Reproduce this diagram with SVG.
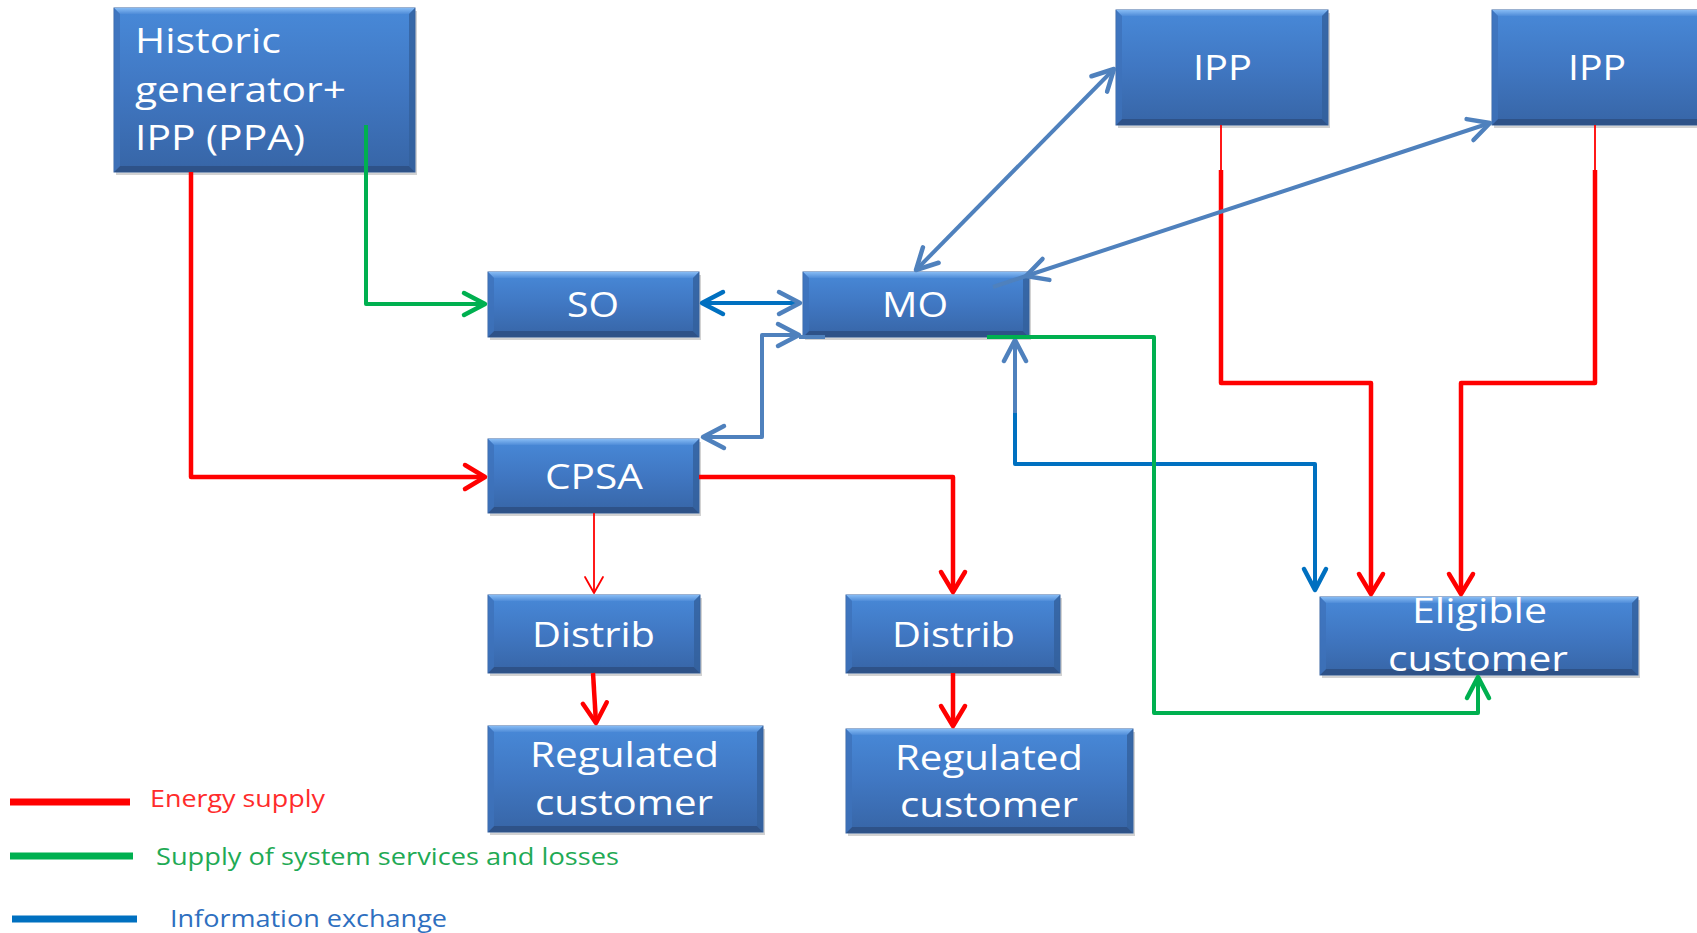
<svg xmlns="http://www.w3.org/2000/svg" width="1697" height="933" viewBox="0 0 1697 933">
<style>
.box{fill:url(#gBox);stroke:#3864a2;stroke-width:1}
.bt{fill:url(#gTop)}
.bb{fill:#2d4f83;opacity:.85}
.bl{fill:#3d72ba;opacity:.8}
.br{fill:#33609c;opacity:.8}
.sh{fill:#7f7f7f;opacity:.35}
.lbl{font-family:"Open Sans","Liberation Sans",sans-serif;font-size:35px;fill:#ffffff}
.leg{font-family:"Open Sans","Liberation Sans",sans-serif;font-size:23px}
.cn{fill:none;stroke-linejoin:round}
.red{stroke:#ff0000;stroke-width:4.5}
.redt{stroke:#ff0000;stroke-width:1.8}
.grn{stroke:#00b050;stroke-width:4}
.stl{stroke:#4f81bd;stroke-width:4}
.dkb{stroke:#0070c0;stroke-width:4}
marker{overflow:visible}
</style>
<defs>
<linearGradient id="gBox" x1="0" y1="0" x2="0" y2="1">
<stop offset="0" stop-color="#4889d8"/>
<stop offset="0.5" stop-color="#4077c2"/>
<stop offset="1" stop-color="#3765a6"/>
</linearGradient>
<linearGradient id="gTop" x1="0" y1="0" x2="0" y2="1">
<stop offset="0" stop-color="#86bbf4"/>
<stop offset="1" stop-color="#4f8cd8"/>
</linearGradient>
<marker id="aR" viewBox="-24 -14 28 28" refX="0" refY="0" markerWidth="28" markerHeight="28" orient="auto-start-reverse" markerUnits="userSpaceOnUse"><path d="M-20,-12 L0,0 L-20,12" fill="none" stroke="#ff0000" stroke-width="4.5" stroke-linecap="round" stroke-linejoin="round"/></marker>
<marker id="aRt" viewBox="-18 -10 20 20" refX="0" refY="0" markerWidth="20" markerHeight="20" orient="auto-start-reverse" markerUnits="userSpaceOnUse"><path d="M-16,-9 L0,0 L-16,9" fill="none" stroke="#ff0000" stroke-width="1.8" stroke-linecap="round" stroke-linejoin="round"/></marker>
<marker id="aG" viewBox="-24 -14 28 28" refX="0" refY="0" markerWidth="28" markerHeight="28" orient="auto-start-reverse" markerUnits="userSpaceOnUse"><path d="M-21,-11 L0,0 L-21,11" fill="none" stroke="#00b050" stroke-width="4.5" stroke-linecap="round" stroke-linejoin="round"/></marker>
<marker id="aS" viewBox="-24 -14 28 28" refX="0" refY="0" markerWidth="28" markerHeight="28" orient="auto-start-reverse" markerUnits="userSpaceOnUse"><path d="M-21,-11 L0,0 L-21,11" fill="none" stroke="#4f81bd" stroke-width="4.5" stroke-linecap="round" stroke-linejoin="round"/></marker>
<marker id="aD" viewBox="-24 -14 28 28" refX="0" refY="0" markerWidth="28" markerHeight="28" orient="auto-start-reverse" markerUnits="userSpaceOnUse"><path d="M-21,-11 L0,0 L-21,11" fill="none" stroke="#0070c0" stroke-width="4.5" stroke-linecap="round" stroke-linejoin="round"/></marker>
</defs>
<rect x="0" y="0" width="1697" height="933" fill="#ffffff"/>

<g id="hist">
<rect class="sh" x="116" y="11" width="301" height="164"/>
<rect class="box" x="114" y="8" width="301" height="164"/>
<polygon class="bt" points="114,8 415,8 409,14 120,14"/>
<polygon class="bb" points="114,172 415,172 409,166 120,166"/>
<polygon class="bl" points="114,8 120,14 120,166 114,172"/>
<polygon class="br" points="415,8 409,14 409,166 415,172"/>
<text class="lbl" x="135" y="53" textLength="146" lengthAdjust="spacingAndGlyphs">Historic</text>
<text class="lbl" x="135" y="102" textLength="211" lengthAdjust="spacingAndGlyphs">generator+</text>
<text class="lbl" x="135" y="150" textLength="170" lengthAdjust="spacingAndGlyphs">IPP (PPA)</text>
</g>

<g id="ipp1">
<rect class="sh" x="1118" y="13" width="212" height="115"/>
<rect class="box" x="1116" y="10" width="212" height="115"/>
<polygon class="bt" points="1116,10 1328,10 1322,16 1122,16"/>
<polygon class="bb" points="1116,125 1328,125 1322,119 1122,119"/>
<polygon class="bl" points="1116,10 1122,16 1122,119 1116,125"/>
<polygon class="br" points="1328,10 1322,16 1322,119 1328,125"/>
<text class="lbl" x="1193" y="80" textLength="59" lengthAdjust="spacingAndGlyphs">IPP</text>
</g>

<g id="ipp2">
<rect class="sh" x="1494" y="13" width="212" height="115"/>
<rect class="box" x="1492" y="10" width="212" height="115"/>
<polygon class="bt" points="1492,10 1704,10 1698,16 1498,16"/>
<polygon class="bb" points="1492,125 1704,125 1698,119 1498,119"/>
<polygon class="bl" points="1492,10 1498,16 1498,119 1492,125"/>
<text class="lbl" x="1568" y="80" textLength="58" lengthAdjust="spacingAndGlyphs">IPP</text>
</g>

<g id="so">
<rect class="sh" x="490" y="275" width="211" height="65"/>
<rect class="box" x="488" y="272" width="211" height="65"/>
<polygon class="bt" points="488,272 699,272 693,278 494,278"/>
<polygon class="bb" points="488,337 699,337 693,331 494,331"/>
<polygon class="bl" points="488,272 494,278 494,331 488,337"/>
<polygon class="br" points="699,272 693,278 693,331 699,337"/>
<text class="lbl" x="567" y="317" textLength="52" lengthAdjust="spacingAndGlyphs">SO</text>
</g>

<g id="mo">
<rect class="sh" x="805" y="275" width="226" height="65"/>
<rect class="box" x="803" y="272" width="226" height="65"/>
<polygon class="bt" points="803,272 1029,272 1023,278 809,278"/>
<polygon class="bb" points="803,337 1029,337 1023,331 809,331"/>
<polygon class="bl" points="803,272 809,278 809,331 803,337"/>
<polygon class="br" points="1029,272 1023,278 1023,331 1029,337"/>
<text class="lbl" x="882" y="317" textLength="66" lengthAdjust="spacingAndGlyphs">MO</text>
</g>

<g id="cpsa">
<rect class="sh" x="490" y="442" width="211" height="74"/>
<rect class="box" x="488" y="439" width="211" height="74"/>
<polygon class="bt" points="488,439 699,439 693,445 494,445"/>
<polygon class="bb" points="488,513 699,513 693,507 494,507"/>
<polygon class="bl" points="488,439 494,445 494,507 488,513"/>
<polygon class="br" points="699,439 693,445 693,507 699,513"/>
<text class="lbl" x="545" y="489" textLength="98" lengthAdjust="spacingAndGlyphs">CPSA</text>
</g>

<g id="distrib1">
<rect class="sh" x="490" y="598" width="212" height="78"/>
<rect class="box" x="488" y="595" width="212" height="78"/>
<polygon class="bt" points="488,595 700,595 694,601 494,601"/>
<polygon class="bb" points="488,673 700,673 694,667 494,667"/>
<polygon class="bl" points="488,595 494,601 494,667 488,673"/>
<polygon class="br" points="700,595 694,601 694,667 700,673"/>
<text class="lbl" x="532" y="647" textLength="123" lengthAdjust="spacingAndGlyphs">Distrib</text>
</g>

<g id="distrib2">
<rect class="sh" x="848" y="598" width="214" height="78"/>
<rect class="box" x="846" y="595" width="214" height="78"/>
<polygon class="bt" points="846,595 1060,595 1054,601 852,601"/>
<polygon class="bb" points="846,673 1060,673 1054,667 852,667"/>
<polygon class="bl" points="846,595 852,601 852,667 846,673"/>
<polygon class="br" points="1060,595 1054,601 1054,667 1060,673"/>
<text class="lbl" x="892" y="647" textLength="123" lengthAdjust="spacingAndGlyphs">Distrib</text>
</g>

<g id="reg1">
<rect class="sh" x="490" y="729" width="275" height="106"/>
<rect class="box" x="488" y="726" width="275" height="106"/>
<polygon class="bt" points="488,726 763,726 757,732 494,732"/>
<polygon class="bb" points="488,832 763,832 757,826 494,826"/>
<polygon class="bl" points="488,726 494,732 494,826 488,832"/>
<polygon class="br" points="763,726 757,732 757,826 763,832"/>
<text class="lbl" x="530" y="767" textLength="189" lengthAdjust="spacingAndGlyphs">Regulated</text>
<text class="lbl" x="535" y="815" textLength="178" lengthAdjust="spacingAndGlyphs">customer</text>
</g>

<g id="reg2">
<rect class="sh" x="848" y="732" width="287" height="104"/>
<rect class="box" x="846" y="729" width="287" height="104"/>
<polygon class="bt" points="846,729 1133,729 1127,735 852,735"/>
<polygon class="bb" points="846,833 1133,833 1127,827 852,827"/>
<polygon class="bl" points="846,729 852,735 852,827 846,833"/>
<polygon class="br" points="1133,729 1127,735 1127,827 1133,833"/>
<text class="lbl" x="895" y="770" textLength="188" lengthAdjust="spacingAndGlyphs">Regulated</text>
<text class="lbl" x="900" y="817" textLength="178" lengthAdjust="spacingAndGlyphs">customer</text>
</g>

<g id="eligible">
<rect class="sh" x="1322" y="600" width="318" height="78"/>
<rect class="box" x="1320" y="597" width="318" height="78"/>
<polygon class="bt" points="1320,597 1638,597 1632,603 1326,603"/>
<polygon class="bb" points="1320,675 1638,675 1632,669 1326,669"/>
<polygon class="bl" points="1320,597 1326,603 1326,669 1320,675"/>
<polygon class="br" points="1638,597 1632,603 1632,669 1638,675"/>
<text class="lbl" x="1412" y="623" textLength="135" lengthAdjust="spacingAndGlyphs">Eligible</text>
<text class="lbl" x="1388" y="671" textLength="180" lengthAdjust="spacingAndGlyphs">customer</text>
</g>

<g id="connectors">
<path class="cn red" d="M191,172 V477 H485" marker-end="url(#aR)"/>
<path class="cn redt" d="M594,513 V593" marker-end="url(#aRt)"/>
<path class="cn red" d="M699,477 H953 V592" marker-end="url(#aR)"/>
<path class="cn red" d="M593,673 L596,723" marker-end="url(#aR)"/>
<path class="cn red" d="M953,673 V726" marker-end="url(#aR)"/>
<path class="cn redt" d="M1221,125 V170"/>
<path class="cn red" d="M1221,170 V383 H1371 V594" marker-end="url(#aR)"/>
<path class="cn redt" d="M1595,125 V170"/>
<path class="cn red" d="M1595,170 V383 H1461 V594" marker-end="url(#aR)"/>

<path class="cn dkb" d="M702,303 H800" marker-start="url(#aD)" marker-end="url(#aS)"/>
<path class="cn stl" d="M916,270 L1114,69" marker-start="url(#aS)" marker-end="url(#aS)"/>
<path class="cn stl" d="M1026,276 L1490,123" marker-start="url(#aS)" marker-end="url(#aS)"/>
<path class="cn stl" stroke-width="3" d="M993,287 L1026,276"/>
<path class="cn stl" d="M799,335 H762 V437 H703" marker-start="url(#aS)" marker-end="url(#aS)"/>
<path class="cn stl" d="M799,337 H825"/>
<path class="cn stl" d="M1015,340 V413" marker-start="url(#aS)"/>
<path class="cn dkb" d="M1015,413 V464 H1315 V590" marker-end="url(#aD)"/>

<path class="cn grn" d="M366,125 V304 H485" marker-end="url(#aG)"/>
<path class="cn grn" d="M987,337 H1154 V713 H1478 V677" marker-end="url(#aG)"/>
</g>

<g id="legend">
<line x1="10" y1="802" x2="130" y2="802" stroke="#ff0000" stroke-width="7"/>
<text class="leg" x="150" y="807" fill="#ff2b2b" textLength="175" lengthAdjust="spacingAndGlyphs">Energy supply</text>
<line x1="10" y1="856" x2="133" y2="856" stroke="#00b050" stroke-width="7"/>
<text class="leg" x="156" y="865" fill="#1faa55" textLength="463" lengthAdjust="spacingAndGlyphs">Supply of system services and losses</text>
<line x1="12" y1="919" x2="137" y2="919" stroke="#0070c0" stroke-width="7"/>
<text class="leg" x="170" y="927" fill="#2e6fc0" textLength="277" lengthAdjust="spacingAndGlyphs">Information exchange</text>
</g>
</svg>
